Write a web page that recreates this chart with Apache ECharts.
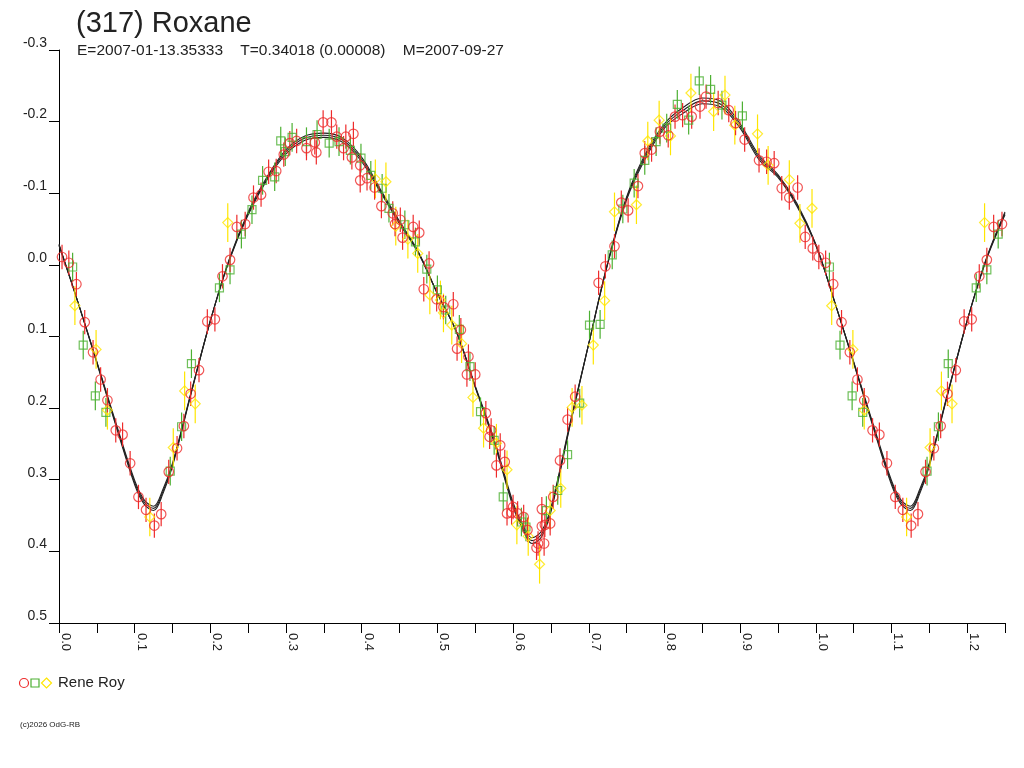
<!DOCTYPE html>
<html>
<head>
<meta charset="utf-8">
<script src="https://cdn.jsdelivr.net/npm/echarts@6/dist/echarts.min.js"></script>
<style>
html,body{margin:0;padding:0;background:#fff;}
#chart{width:1024px;height:768px;}
</style>
</head>
<body>
<div id="chart"></div>
<script>
// ---- Data (phase, reduced magnitude) ----
const TITLE = '(317) Roxane';
const SUBTITLE = 'E=2007-01-13.35333    T=0.34018 (0.00008)    M=2007-09-27';
const OBSERVER = 'Rene Roy';
const COPYRIGHT = '(c)2026 OdG-RB';

const PHASE_MIN = 0, PHASE_MAX = 1.25, PHASE_STEP = 0.05;
const MAG_MIN = -0.3, MAG_MAX = 0.5, MAG_STEP = 0.1;

const redPoints = [
[0.004,-0.011],[0.013,-0.003],[0.023,0.027],[0.034,0.080],[0.045,0.122],[0.055,0.160],
[0.064,0.189],[0.075,0.231],[0.084,0.237],[0.094,0.277],[0.105,0.324],[0.115,0.342],
[0.126,0.364],[0.135,0.348],[0.145,0.289],[0.156,0.256],[0.165,0.225],[0.174,0.180],
[0.185,0.147],[0.196,0.079],[0.206,0.076],[0.216,0.016],[0.226,-0.007],[0.235,-0.053],
[0.246,-0.057],[0.257,-0.094],[0.267,-0.098],[0.277,-0.130],[0.287,-0.131],[0.297,-0.154],
[0.305,-0.170],[0.314,-0.173],[0.327,-0.163],[0.340,-0.157],[0.338,-0.171],[0.349,-0.199],
[0.360,-0.199],[0.367,-0.179],[0.376,-0.163],[0.379,-0.179],[0.387,-0.150],[0.389,-0.183],
[0.398,-0.139],[0.398,-0.118],[0.407,-0.121],[0.417,-0.108],[0.426,-0.082],[0.441,-0.072],
[0.444,-0.057],[0.451,-0.063],[0.454,-0.038],[0.468,-0.053],[0.476,-0.045],[0.489,-0.002],
[0.482,0.034],[0.499,0.048],[0.508,0.059],[0.521,0.055],[0.531,0.091],[0.526,0.117],
[0.541,0.128],[0.539,0.153],[0.550,0.153],[0.564,0.207],[0.571,0.231],[0.569,0.240],
[0.583,0.252],[0.578,0.280],[0.589,0.275],[0.592,0.347],[0.600,0.338],[0.598,0.346],
[0.606,0.347],[0.614,0.352],[0.619,0.370],[0.633,0.389],[0.631,0.395],[0.641,0.389],
[0.638,0.365],[0.642,0.363],[0.649,0.361],[0.638,0.341],[0.653,0.324],[0.662,0.273],
[0.672,0.216],[0.682,0.184],[0.713,0.025],[0.722,0.002],[0.734,-0.026],[0.743,-0.087],
[0.752,-0.076],[0.765,-0.110],[0.774,-0.156],[0.783,-0.161],[0.794,-0.186],[0.805,-0.181],
[0.814,-0.207],[0.824,-0.209],[0.836,-0.207],[0.847,-0.221],[0.855,-0.235],[0.871,-0.226],
[0.885,-0.216],[0.894,-0.198],[0.906,-0.175],[0.925,-0.146],[0.935,-0.144],[0.945,-0.142],
[0.955,-0.107],[0.965,-0.094],[0.976,-0.108],[0.986,-0.039],[0.996,-0.023]
];
const greenPoints = [
[0.018,0.003],[0.032,0.112],[0.048,0.183],[0.062,0.206],[0.147,0.288],[0.162,0.226],
[0.175,0.138],[0.212,0.032],[0.226,0.007],[0.241,-0.043],[0.255,-0.077],[0.269,-0.118],
[0.285,-0.123],[0.299,-0.158],[0.293,-0.173],[0.308,-0.178],[0.327,-0.172],[0.341,-0.182],
[0.357,-0.170],[0.370,-0.172],[0.385,-0.160],[0.399,-0.149],[0.412,-0.125],[0.427,-0.107],
[0.436,-0.079],[0.457,-0.056],[0.471,-0.032],[0.486,0.006],[0.500,0.035],[0.511,0.063],
[0.529,0.090],[0.543,0.142],[0.557,0.205],[0.575,0.245],[0.587,0.324],[0.611,0.359],
[0.617,0.366],[0.644,0.343],[0.659,0.315],[0.672,0.265],[0.688,0.193],[0.701,0.084],
[0.715,0.083],[0.731,-0.014],[0.745,-0.078],[0.760,-0.114],[0.774,-0.146],[0.789,-0.172],
[0.803,-0.191],[0.817,-0.224],[0.832,-0.202],[0.846,-0.257],[0.861,-0.245],[0.876,-0.223],
[0.903,-0.208]
];
const yellowPoints = [
[0.021,0.057],[0.049,0.118],[0.064,0.203],[0.120,0.352],[0.151,0.255],[0.166,0.176],
[0.180,0.194],[0.223,-0.059],[0.418,-0.120],[0.432,-0.116],[0.445,-0.054],[0.461,-0.036],
[0.474,-0.016],[0.490,0.042],[0.504,0.049],[0.508,0.067],[0.519,0.084],[0.532,0.110],
[0.547,0.185],[0.561,0.228],[0.578,0.249],[0.592,0.286],[0.605,0.363],[0.620,0.379],
[0.635,0.418],[0.649,0.343],[0.663,0.312],[0.678,0.199],[0.691,0.196],[0.706,0.112],
[0.721,0.050],[0.734,-0.074],[0.763,-0.084],[0.778,-0.173],[0.793,-0.202],[0.808,-0.180],
[0.835,-0.240],[0.865,-0.214],[0.880,-0.237],[0.893,-0.195],[0.923,-0.183],[0.937,-0.139],
[0.965,-0.119],[0.979,-0.058],[0.995,-0.079]
];
// typical error bar half-lengths (mag) per session
const RED_ERR = 0.017, GREEN_ERR = 0.020, YELLOW_ERR = 0.027;

// fitted light curve (main) and its two bounding curves
const curvePhase = [0.000,0.025,0.050,0.075,0.100,0.1125,0.125,0.1375,0.150,0.175,0.200,0.225,
 0.250,0.275,0.300,0.325,0.350,0.375,0.400,0.425,0.450,0.475,0.500,0.525,0.550,0.575,0.600,
 0.6125,0.625,0.6375,0.650,0.675,0.700,0.725,0.750,0.775,0.800,0.825,0.850,0.875,0.900,0.925,
 0.950,0.975,1.000];
const curveMain = [-0.028,0.052,0.136,0.222,0.304,0.331,0.340,0.316,0.279,0.177,0.078,-0.007,
 -0.072,-0.121,-0.158,-0.177,-0.181,-0.174,-0.147,-0.103,-0.059,-0.017,0.040,0.093,0.170,0.246,0.335,
 0.365,0.385,0.376,0.342,0.224,0.110,-0.002,-0.093,-0.152,-0.194,-0.216,-0.229,-0.224,-0.194,-0.150,
 -0.124,-0.084,-0.028];
const curveUpper = [-0.029,0.052,0.137,0.224,0.307,0.334,0.343,0.319,0.281,0.178,0.078,-0.008,
 -0.074,-0.123,-0.161,-0.180,-0.184,-0.177,-0.150,-0.105,-0.061,-0.018,0.040,0.093,0.171,0.248,0.338,
 0.368,0.389,0.380,0.345,0.226,0.110,-0.003,-0.095,-0.155,-0.197,-0.220,-0.233,-0.228,-0.197,-0.153,
 -0.126,-0.086,-0.029];
const curveLower = [-0.027,0.052,0.135,0.220,0.301,0.328,0.337,0.313,0.277,0.176,0.078,-0.006,
 -0.070,-0.119,-0.155,-0.174,-0.178,-0.171,-0.144,-0.101,-0.057,-0.016,0.040,0.093,0.169,0.244,0.332,
 0.362,0.381,0.372,0.339,0.222,0.110,-0.001,-0.091,-0.149,-0.191,-0.212,-0.225,-0.220,-0.191,-0.147,
 -0.122,-0.082,-0.027];

const RED = '#ee2b2b', GREEN = '#4cb032', YELLOW = '#ffe600', CURVE = '#222222';
const FONT = '"Liberation Sans", Arial, sans-serif';

// phase-folded plot repeats the cycle beyond phase 1
function wrapPoints(pts) {
  return pts.concat(pts.filter(p => p[0] + 1 <= PHASE_MAX + 1e-9).map(p => [p[0] + 1, p[1]]));
}
function withErr(pts, e) { return pts.map(p => [p[0], p[1], e]); }
function curveData(vals) {
  const pts = curvePhase.map((ph, i) => [ph, vals[i]]);
  return pts.concat(pts.filter(p => p[0] > 0 && p[0] + 1 <= PHASE_MAX + 1e-9).map(p => [p[0] + 1, p[1]]));
}

function errorSeries(name, pts, err, color) {
  return {
    type: 'custom', name: name, z: 3,
    data: withErr(wrapPoints(pts), err),
    renderItem: function (params, api) {
      const x = api.value(0), y = api.value(1), e = api.value(2);
      const a = api.coord([x, y - e]), b = api.coord([x, y + e]);
      return { type: 'line', shape: { x1: a[0], y1: a[1], x2: b[0], y2: b[1] },
               style: { stroke: color, lineWidth: 1.2 } };
    },
    silent: true
  };
}
function markerSeries(name, pts, symbol, size, color) {
  return {
    type: 'scatter', name: name, z: 4, symbol: symbol, symbolSize: size,
    data: wrapPoints(pts),
    itemStyle: { color: 'rgba(0,0,0,0)', borderColor: color, borderWidth: 1.2 },
    silent: true
  };
}
function curveSeries(name, vals) {
  return {
    type: 'line', name: name, z: 2, data: curveData(vals), symbol: 'none',
    smooth: 0.35, lineStyle: { color: CURVE, width: 1.1 }, silent: true
  };
}

const chart = echarts.init(document.getElementById('chart'));
chart.setOption({
  animation: false,
  backgroundColor: '#fff',
  title: [
    { text: TITLE, left: 76, top: 9, padding: 0, textStyle: { fontFamily: FONT, fontSize: 29, fontWeight: 'normal', color: '#222' } },
    { text: SUBTITLE, left: 77, top: 43, padding: 0, textStyle: { fontFamily: FONT, fontSize: 15.5, fontWeight: 'normal', color: '#222' } }
  ],
  grid: { left: 59, right: 19, top: 50, bottom: 145 },
  xAxis: {
    type: 'value', min: PHASE_MIN, max: PHASE_MAX, interval: PHASE_STEP,
    splitLine: { show: false },
    axisLine: { show: true, onZero: false, lineStyle: { color: '#000', width: 1 } },
    axisTick: { show: true, length: 10, lineStyle: { color: '#000' } },
    axisLabel: {
      rotate: -90, margin: 10, verticalAlign: 'bottom', color: '#222',
      fontFamily: FONT, fontSize: 13,
      formatter: function (v) {
        const k = Math.round(v * 100);
        return (k % 10 === 0) ? (k / 100).toFixed(1) : '';
      }
    }
  },
  yAxis: {
    type: 'value', inverse: true, min: MAG_MIN, max: MAG_MAX, interval: MAG_STEP,
    splitLine: { show: false },
    axisLine: { show: true, onZero: false, lineStyle: { color: '#000', width: 1 } },
    axisTick: { show: true, length: 10, lineStyle: { color: '#000' } },
    axisLabel: {
      margin: 12, verticalAlign: 'bottom', color: '#222', fontFamily: FONT, fontSize: 14,
      formatter: function (v) { return (Math.abs(v) < 1e-9 ? 0 : v).toFixed(1); }
    }
  },
  series: [
    curveSeries('fit-upper', curveUpper),
    curveSeries('fit', curveMain),
    curveSeries('fit-lower', curveLower),
    errorSeries('green-err', greenPoints, GREEN_ERR, GREEN),
    errorSeries('yellow-err', yellowPoints, YELLOW_ERR, YELLOW),
    errorSeries('red-err', redPoints, RED_ERR, RED),
    markerSeries('green', greenPoints, 'rect', 8, GREEN),
    markerSeries('yellow', yellowPoints, 'diamond', 10, YELLOW),
    markerSeries('red', redPoints, 'circle', 9.5, RED)
  ],
  graphic: [
    { type: 'circle', shape: { cx: 24, cy: 683, r: 4.5 }, style: { fill: 'none', stroke: RED, lineWidth: 1.2 } },
    { type: 'rect', shape: { x: 31, y: 679, width: 8, height: 8 }, style: { fill: 'none', stroke: GREEN, lineWidth: 1.2 } },
    { type: 'polygon', shape: { points: [[46.5, 678], [51.5, 683], [46.5, 688], [41.5, 683]] }, style: { fill: 'none', stroke: YELLOW, lineWidth: 1.2 } },
    { type: 'text', x: 58, y: 683, style: { text: OBSERVER, fill: '#222', font: '15px ' + FONT, verticalAlign: 'middle' } },
    { type: 'text', x: 20, y: 725, style: { text: COPYRIGHT, fill: '#222', font: '8px ' + FONT, verticalAlign: 'middle' } }
  ]
});
</script>
</body>
</html>
